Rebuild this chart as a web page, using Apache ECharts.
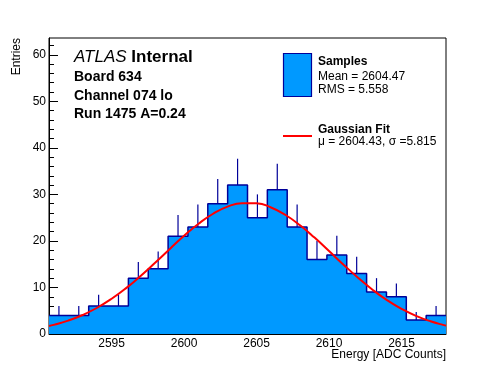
<!DOCTYPE html>
<html>
<head>
<meta charset="utf-8">
<script src="https://cdn.jsdelivr.net/npm/echarts@6/dist/echarts.min.js"></script>
<style>
html,body{margin:0;padding:0;background:#fff;}
#chart{width:496px;height:372px;}
</style>
</head>
<body>
<div id="chart"></div>
<script>
// ---- data ----
const binLow = 2590.68;      // lower edge of first bin [ADC counts]
const binWidth = 1.3695;     // bin width [ADC counts]
const counts = [4, 4, 6, 6, 12, 14, 21, 23, 28, 32, 25, 31, 23, 16, 17, 13, 9, 8, 3, 4];
const errUp  = [2.0, 2.0, 2.45, 2.45, 3.46, 3.74, 4.58, 4.8, 5.29, 5.66, 5.0, 5.57, 4.8, 4.0, 4.12, 3.61, 3.0, 2.83, 1.73, 2.0];
const fitX = [2590.68, 2591, 2592, 2593, 2594, 2595, 2596, 2597, 2598, 2599, 2600, 2601, 2602, 2603, 2604, 2605, 2606, 2607, 2608, 2609, 2610, 2611, 2612, 2613, 2614, 2615, 2616, 2617, 2618, 2618.07];
const fitY = [1.72, 1.96, 2.87, 4.09, 5.64, 7.57, 9.86, 12.47, 15.31, 18.23, 21.10, 23.70, 25.84, 27.36, 28.12, 28.07, 27.19, 25.57, 23.36, 20.71, 17.82, 14.90, 12.09, 9.52, 7.28, 5.41, 3.89, 2.73, 1.85, 1.80];
const xMin = 2590.68, xMax = 2618.07;
const yMin = 0, yMax = 63.6;
const xMajorTicks = [2595, 2600, 2605, 2610, 2615];
const xMinorTicks = [2591,2592,2593,2594,2596,2597,2598,2599,2601,2602,2603,2604,2606,2607,2608,2609,2611,2612,2613,2614,2616,2617,2618];
const yMajorTicks = [0, 10, 20, 30, 40, 50, 60];
const yMinorTicks = [2,4,6,8,12,14,16,18,22,24,26,28,32,34,36,38,42,44,46,48,52,54,56,58,62];
const xTitle = 'Energy [ADC Counts]';
const yTitle = 'Entries';
const textLines = ['Board 634', 'Channel 074 lo', 'Run 1475 A=0.24'];
const legendSamples = ['Samples', 'Mean = 2604.47', 'RMS = 5.558'];
const legendFit = ['Gaussian Fit', 'μ = 2604.43, σ =5.815'];

// ---- build series data ----
const histData = counts.map((c, i) => [binLow + i * binWidth, c]);
histData.push([binLow + counts.length * binWidth, counts[counts.length - 1]]);
const errData = counts.map((c, i) => [binLow + (i + 0.5) * binWidth, c, errUp[i]]);
const fitData = fitX.map((x, i) => [x, fitY[i]]);

const FONT = 'Liberation Sans, Arial, Helvetica, sans-serif';
const FILL = '#0099ff';
const NAVY = '#000099';

const chart = echarts.init(document.getElementById('chart'), null, {renderer: 'canvas'});

const axisCommonX = {
  type: 'value', min: xMin, max: xMax, gridIndex: 0, position: 'bottom',
  splitLine: {show: false}
};
const axisCommonY = {
  type: 'value', min: yMin, max: yMax, gridIndex: 0, position: 'left',
  splitLine: {show: false}
};
const plain = v => String(v);

const option = {
  animation: false,
  backgroundColor: '#fff',
  grid: {
    left: 49, right: 50, top: 38, bottom: 38,
    show: true, borderColor: '#000', borderWidth: 1,
    containLabel: false, outerBoundsMode: 'none'
  },
  xAxis: [
    Object.assign({}, axisCommonX, {
      axisLine: {show: true, onZero: false, lineStyle: {color: '#000', width: 1}},
      axisTick: {show: true, inside: true, length: 9, customValues: xMajorTicks, lineStyle: {color: '#000'}},
      axisLabel: {show: true, customValues: xMajorTicks, formatter: plain, color: '#000', fontSize: 12, fontFamily: FONT, margin: 4}
    }),
    Object.assign({}, axisCommonX, {
      axisLine: {show: false, onZero: false},
      axisTick: {show: true, inside: true, length: 5, customValues: xMinorTicks, lineStyle: {color: '#000'}},
      axisLabel: {show: false}
    })
  ],
  yAxis: [
    Object.assign({}, axisCommonY, {
      axisLine: {show: true, onZero: false, lineStyle: {color: '#000', width: 1}},
      axisTick: {show: true, inside: true, length: 9, customValues: yMajorTicks, lineStyle: {color: '#000'}},
      axisLabel: {show: true, customValues: yMajorTicks, formatter: plain, color: '#000', fontSize: 12, fontFamily: FONT, margin: 3, padding: [3, 0, 0, 0]}
    }),
    Object.assign({}, axisCommonY, {
      axisLine: {show: false, onZero: false},
      axisTick: {show: true, inside: true, length: 5, customValues: yMinorTicks, lineStyle: {color: '#000'}},
      axisLabel: {show: false}
    })
  ],
  series: [
    {
      name: 'Samples', type: 'line', xAxisIndex: 0, yAxisIndex: 0,
      step: 'end', data: histData, symbol: 'none', z: 2,
      lineStyle: {color: NAVY, width: 1.5},
      areaStyle: {color: FILL, opacity: 1},
      clip: true
    },
    {
      name: 'errors', type: 'custom', xAxisIndex: 0, yAxisIndex: 0, z: 3,
      data: errData,
      encode: {x: 0, y: 1},
      renderItem: function (params, api) {
        const x = api.value(0), c = api.value(1), e = api.value(2);
        const p0 = api.coord([x, c]);
        const p1 = api.coord([x, c + e]);
        return {
          type: 'line',
          shape: {x1: p0[0], y1: p0[1], x2: p1[0], y2: p1[1]},
          style: {stroke: NAVY, lineWidth: 1.2}
        };
      }
    },
    {
      name: 'Gaussian Fit', type: 'line', xAxisIndex: 0, yAxisIndex: 0,
      data: fitData, symbol: 'none', smooth: true, z: 4,
      lineStyle: {color: '#ff0000', width: 2}
    }
  ],
  graphic: [
    {type: 'text', x: 17, y: 38, rotation: Math.PI / 2,
      style: {text: yTitle, font: '12px ' + FONT, fill: '#000', align: 'right', verticalAlign: 'middle'}},
    {type: 'text', x: 446, y: 355,
      style: {text: xTitle, font: '12px ' + FONT, fill: '#000', align: 'right', verticalAlign: 'middle'}},
    {type: 'text', x: 74, y: 57,
      style: {
        text: '{a|ATLAS} {b|Internal}', verticalAlign: 'middle', align: 'left',
        rich: {
          a: {fontStyle: 'italic', fontSize: 17, fontFamily: FONT, fill: '#000'},
          b: {fontWeight: 'bold', fontSize: 17, fontFamily: FONT, fill: '#000'}
        },
        font: '17px ' + FONT, fill: '#000'
      }},
    {type: 'text', x: 74, y: 77, style: {text: textLines[0], font: 'bold 14px ' + FONT, fill: '#000', verticalAlign: 'middle'}},
    {type: 'text', x: 74, y: 96, style: {text: textLines[1], font: 'bold 14px ' + FONT, fill: '#000', verticalAlign: 'middle'}},
    {type: 'text', x: 74, y: 114.5, style: {text: textLines[2], font: 'bold 14px ' + FONT, fill: '#000', verticalAlign: 'middle'}},
    // legend: Samples
    {type: 'rect', shape: {x: 283.5, y: 53.5, width: 28, height: 43},
      style: {fill: FILL, stroke: NAVY, lineWidth: 1.2}},
    {type: 'text', x: 318, y: 62, style: {text: legendSamples[0], font: 'bold 12px ' + FONT, fill: '#000', verticalAlign: 'middle'}},
    {type: 'text', x: 318, y: 77, style: {text: legendSamples[1], font: '12px ' + FONT, fill: '#000', verticalAlign: 'middle'}},
    {type: 'text', x: 318, y: 90, style: {text: legendSamples[2], font: '12px ' + FONT, fill: '#000', verticalAlign: 'middle'}},
    // legend: fit
    {type: 'line', shape: {x1: 283, y1: 136, x2: 312, y2: 136}, style: {stroke: '#ff0000', lineWidth: 2}},
    {type: 'text', x: 318, y: 129.5, style: {text: legendFit[0], font: 'bold 12px ' + FONT, fill: '#000', verticalAlign: 'middle'}},
    {type: 'text', x: 318, y: 142, style: {text: legendFit[1], font: '12px ' + FONT, fill: '#000', verticalAlign: 'middle'}}
  ]
};
chart.setOption(option);
</script>
</body>
</html>
